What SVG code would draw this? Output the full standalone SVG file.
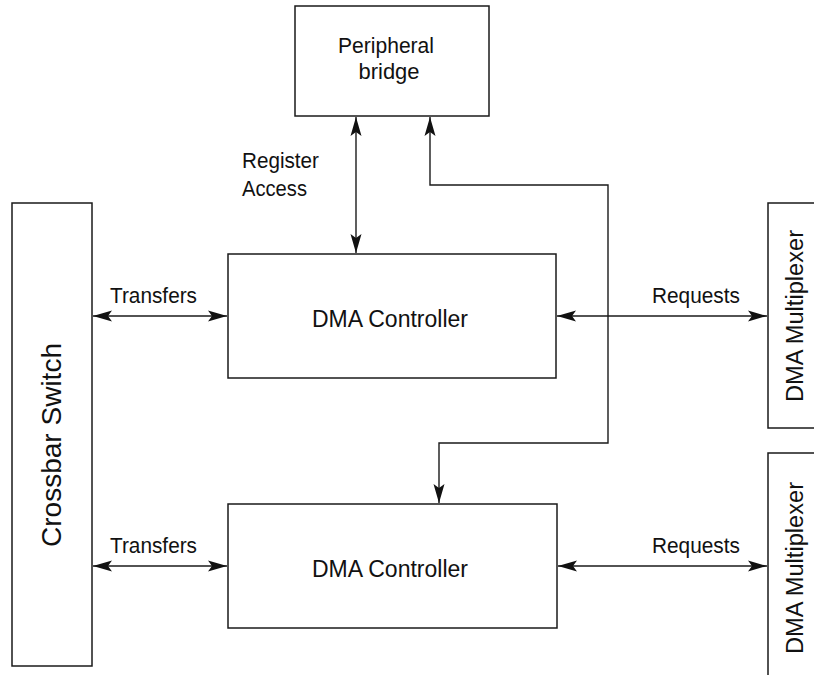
<svg xmlns="http://www.w3.org/2000/svg" width="814" height="675" viewBox="0 0 814 675">
  <style>
    .box { fill: #fff; stroke: #1a1a1a; stroke-width: 1.5; }
    .wire { fill: none; stroke: #1a1a1a; stroke-width: 1.4; }
    .t { font-family: "Liberation Sans", Arial, sans-serif; fill: #111; }
    .lbl { font-size: 22px; }
    .name { font-size: 23.5px; text-anchor: middle; }
  </style>
  <defs>
    <marker id="head" viewBox="-19 -6 20 12" refX="0" refY="0" markerWidth="20" markerHeight="12" markerUnits="userSpaceOnUse" orient="auto-start-reverse">
      <path d="M0,0 L-19,-5.5 L-15,0 L-19,5.5 Z" fill="#111"/>
    </marker>
  </defs>
  <rect width="814" height="675" fill="#fff"/>

  <g id="peripheral-bridge">
    <rect class="box" x="295" y="6" width="194" height="110"/>
    <text class="t lbl" x="386" y="53" text-anchor="middle" textLength="96" lengthAdjust="spacingAndGlyphs">Peripheral</text>
    <text class="t lbl" x="389" y="79" text-anchor="middle" textLength="61" lengthAdjust="spacingAndGlyphs">bridge</text>
  </g>

  <g id="crossbar-switch">
    <rect class="box" x="12" y="203" width="80" height="463"/>
    <text class="t" font-size="28.5" text-anchor="middle" transform="translate(61,445) rotate(-90)" textLength="204" lengthAdjust="spacingAndGlyphs">Crossbar Switch</text>
  </g>

  <g id="dma-controller-1">
    <rect class="box" x="228" y="254" width="328" height="124"/>
    <text class="t name" x="390" y="327" textLength="156" lengthAdjust="spacingAndGlyphs">DMA Controller</text>
  </g>

  <g id="dma-controller-2">
    <rect class="box" x="228" y="504" width="329" height="124"/>
    <text class="t name" x="390" y="577" textLength="156" lengthAdjust="spacingAndGlyphs">DMA Controller</text>
  </g>

  <g id="dma-mux-1">
    <rect class="box" x="768" y="203" width="60" height="225"/>
    <text class="t name" transform="translate(803,316) rotate(-90)" textLength="172" lengthAdjust="spacingAndGlyphs">DMA Multiplexer</text>
  </g>

  <g id="dma-mux-2">
    <rect class="box" x="768" y="453" width="60" height="240"/>
    <text class="t name" transform="translate(803,568) rotate(-90)" textLength="172" lengthAdjust="spacingAndGlyphs">DMA Multiplexer</text>
  </g>

  <g id="connectors">
    <!-- register access between bridge and first controller -->
    <line class="wire" x1="356" y1="117" x2="356" y2="253" marker-start="url(#head)" marker-end="url(#head)"/>
    <!-- bridge link routed to second controller -->
    <polyline class="wire" points="430,117 430,185 608,185 608,443 439,443 439,503" marker-start="url(#head)" marker-end="url(#head)"/>
    <!-- transfers -->
    <line class="wire" x1="93" y1="316" x2="227" y2="316" marker-start="url(#head)" marker-end="url(#head)"/>
    <line class="wire" x1="93" y1="566" x2="227" y2="566" marker-start="url(#head)" marker-end="url(#head)"/>
    <!-- requests -->
    <line class="wire" x1="557" y1="316" x2="767" y2="316" marker-start="url(#head)" marker-end="url(#head)"/>
    <line class="wire" x1="558" y1="566" x2="767" y2="566" marker-start="url(#head)" marker-end="url(#head)"/>
  </g>

  <g id="labels">
    <text class="t lbl" x="242" y="168" textLength="77" lengthAdjust="spacingAndGlyphs">Register</text>
    <text class="t lbl" x="242" y="196" textLength="65" lengthAdjust="spacingAndGlyphs">Access</text>
    <text class="t lbl" x="110" y="303" textLength="87" lengthAdjust="spacingAndGlyphs">Transfers</text>
    <text class="t lbl" x="110" y="553" textLength="87" lengthAdjust="spacingAndGlyphs">Transfers</text>
    <text class="t lbl" x="652" y="303" textLength="88" lengthAdjust="spacingAndGlyphs">Requests</text>
    <text class="t lbl" x="652" y="553" textLength="88" lengthAdjust="spacingAndGlyphs">Requests</text>
  </g>
</svg>
